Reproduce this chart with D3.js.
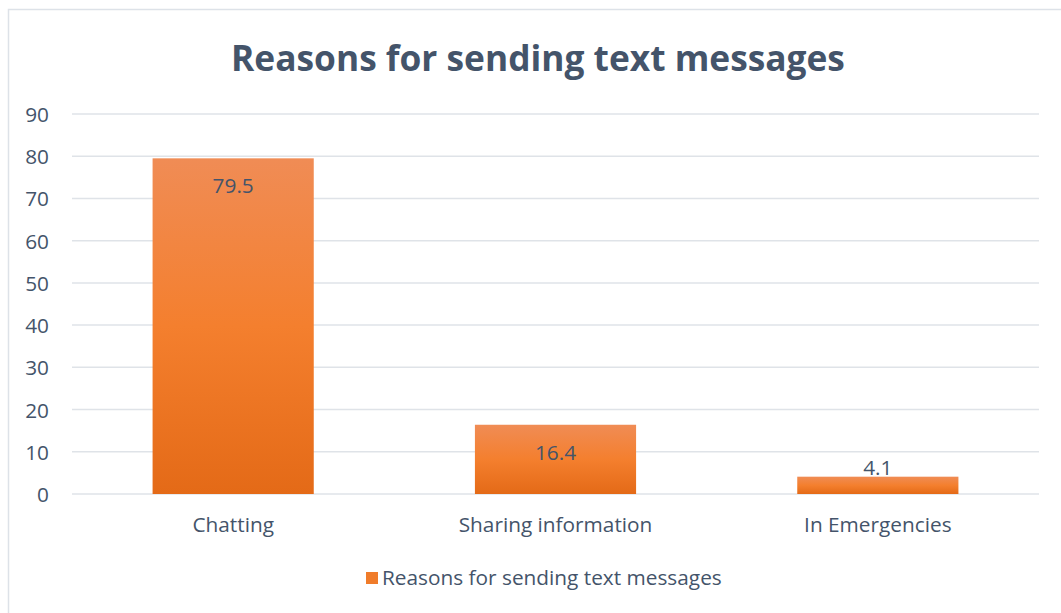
<!DOCTYPE html>
<html>
<head>
<meta charset="utf-8">
<script src="https://cdn.jsdelivr.net/npm/d3@7"></script>
<style>
  html, body { margin: 0; padding: 0; background: #fff; }
  svg { display: block; }
  text { font-family: "Open Sans", sans-serif; }
</style>
</head>
<body>
<svg id="chart" width="1061" height="613"></svg>
<script>
// Survey results: why respondents send text messages (percent)
const categories = ["Chatting", "Sharing information", "In Emergencies"];
const values = [79.5, 16.4, 4.1];
const yTicks = [0, 10, 20, 30, 40, 50, 60, 70, 80, 90];
const seriesName = "Reasons for sending text messages";
const chartTitle = "Reasons for sending text messages";

const W = 1061, H = 613;
const margin = { left: 72, right: 22, top: 114, bottom: 119 };
const textColor = "#44546a";
const gridColor = "#dfe3e8";
const labelSize = "20.8px";

const svg = d3.select("#chart");

// outer chart frame (top and left edges visible)
svg.append("path")
  .attr("d", `M8.5,${H} L8.5,9.5 L${W},9.5`)
  .attr("fill", "none")
  .attr("stroke", "#dde2e8")
  .attr("stroke-width", 1.5);

// vertical gradient used by the bars
const defs = svg.append("defs");
const grad = defs.append("linearGradient")
  .attr("id", "barFill").attr("x1", 0).attr("y1", 0).attr("x2", 0).attr("y2", 1);
grad.append("stop").attr("offset", "0%").attr("stop-color", "#f08c55");
grad.append("stop").attr("offset", "50%").attr("stop-color", "#f47f2e");
grad.append("stop").attr("offset", "100%").attr("stop-color", "#e46a17");

const x = d3.scaleBand()
  .domain(categories)
  .range([margin.left, W - margin.right])
  .paddingInner(0.5)
  .paddingOuter(0.25);

const y = d3.scaleLinear()
  .domain([0, 90])
  .range([H - margin.bottom, margin.top]);

// horizontal gridlines
svg.append("g")
  .selectAll("line")
  .data(yTicks)
  .join("line")
  .attr("x1", margin.left)
  .attr("x2", W - margin.right)
  .attr("y1", d => y(d))
  .attr("y2", d => y(d))
  .attr("stroke", gridColor)
  .attr("stroke-width", 1.5);

// y-axis labels
const yAxis = d3.axisLeft(y).tickValues(yTicks).tickSize(0).tickPadding(0);
const gy = svg.append("g")
  .attr("transform", `translate(${margin.left - 23},0)`)
  .call(yAxis);
gy.select(".domain").remove();
gy.selectAll("text")
  .attr("fill", textColor)
  .style("font-family", "'Open Sans', sans-serif")
  .style("font-size", labelSize)
  .attr("dy", "0.36em");

// bars
svg.append("g")
  .selectAll("rect")
  .data(values)
  .join("rect")
  .attr("x", (d, i) => x(categories[i]))
  .attr("width", x.bandwidth())
  .attr("y", d => y(d))
  .attr("height", d => y(0) - y(d))
  .attr("fill", "url(#barFill)");

// value labels: inside the bar top, above it if the bar is short
svg.append("g")
  .selectAll("text")
  .data(values)
  .join("text")
  .attr("x", (d, i) => x(categories[i]) + x.bandwidth() / 2)
  .attr("y", d => (y(0) - y(d) > 40 ? y(d) + 35 : y(d) - 2))
  .attr("text-anchor", "middle")
  .attr("fill", textColor)
  .style("font-size", labelSize)
  .text(d => d.toFixed(1));

// category labels
const xAxis = d3.axisBottom(x).tickSize(0).tickPadding(0);
const gx = svg.append("g")
  .attr("transform", `translate(0,${y(0) + 38})`)
  .call(xAxis);
gx.select(".domain").remove();
gx.selectAll("text")
  .attr("fill", textColor)
  .attr("dy", 0)
  .style("font-family", "'Open Sans', sans-serif")
  .style("font-size", labelSize);

// title
svg.append("text")
  .attr("x", 538)
  .attr("y", 71)
  .attr("text-anchor", "middle")
  .attr("fill", textColor)
  .style("font-size", "35.3px")
  .style("font-weight", "bold")
  .text(chartTitle);

// legend
const legend = svg.append("g").attr("transform", "translate(366,572)");
legend.append("rect")
  .attr("width", 12).attr("height", 12)
  .attr("fill", "#f07c2a");
legend.append("text")
  .attr("x", 16).attr("y", 13)
  .attr("fill", textColor)
  .style("font-size", labelSize)
  .text(seriesName);
</script>
</body>
</html>
